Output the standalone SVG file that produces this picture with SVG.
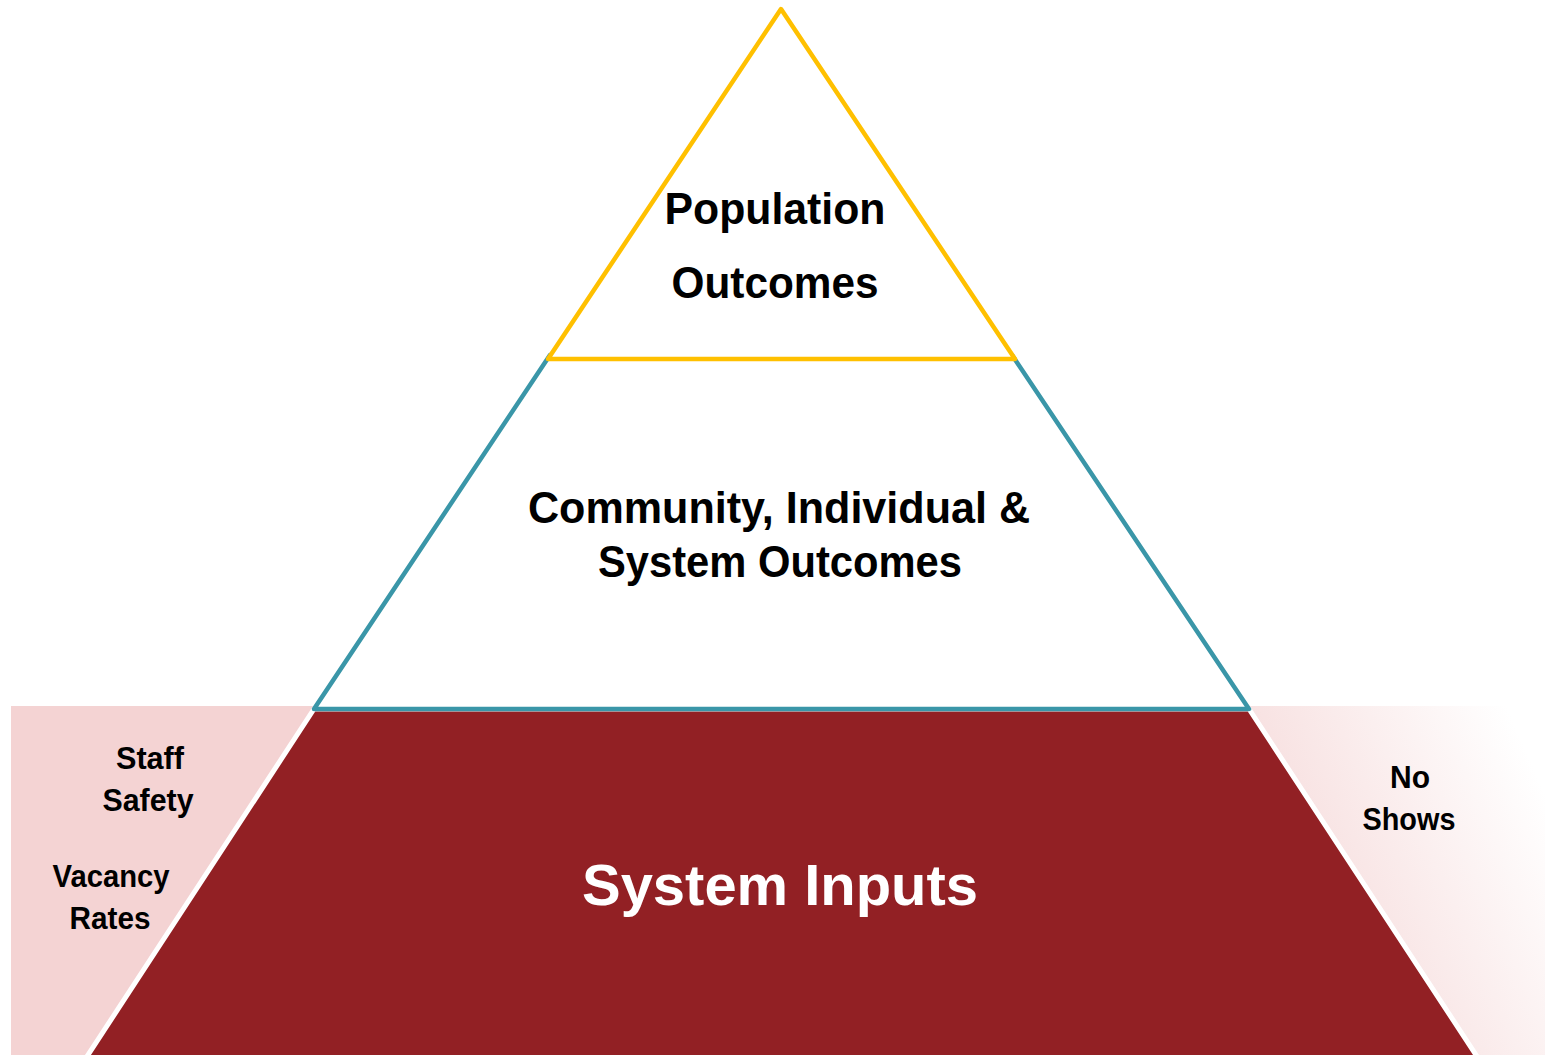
<svg xmlns="http://www.w3.org/2000/svg" width="1545" height="1055" viewBox="0 0 1545 1055">
<defs>
<linearGradient id="fade" x1="0" y1="0.75" x2="1" y2="0.25">
<stop offset="0" stop-color="#F4D3D3"/>
<stop offset="1" stop-color="#FFFFFF"/>
</linearGradient>
<style>
.t{font-family:"Liberation Sans",Arial,sans-serif;font-weight:bold;fill:#000;text-anchor:middle}
.big{font-size:45px}
.mid{font-size:44px}
.sm{font-size:31px}
.w{fill:#fff;font-size:58px}
</style>
</defs>
<rect width="1545" height="1055" fill="#fff"/>
<g id="side-left">
<rect x="11" y="706" width="320" height="349" fill="#F4D3D3"/>
</g>
<g id="side-right">
<rect x="1235" y="706" width="310" height="349" fill="url(#fade)"/>
</g>
<g id="system-inputs">
<polygon points="314,709 1249,709 1478,1058 86,1058" fill="#922024" stroke="#fff" stroke-width="5" stroke-linejoin="miter"/>
<text class="t w" x="780" y="905" textLength="396" lengthAdjust="spacingAndGlyphs">System Inputs</text>
</g>
<g id="community-outcomes">
<polygon points="550,355 1012,355 1249,709 314,709" fill="#fff" stroke="#3A96A8" stroke-width="4.5" stroke-linejoin="round"/>
<text class="t mid" x="779" y="523" textLength="502" lengthAdjust="spacingAndGlyphs">Community, Individual &amp;</text>
<text class="t mid" x="780" y="577" textLength="364" lengthAdjust="spacingAndGlyphs">System Outcomes</text>
</g>
<g id="population-outcomes">
<polygon points="781,9 1015,359 548,359" fill="#fff" stroke="#FFC000" stroke-width="4.5" stroke-linejoin="round"/>
<text class="t big" x="775" y="224" textLength="221" lengthAdjust="spacingAndGlyphs">Population</text>
<text class="t big" x="775" y="298" textLength="207" lengthAdjust="spacingAndGlyphs">Outcomes</text>
</g>
<g id="labels-left">
<text class="t sm" x="150" y="769" textLength="68" lengthAdjust="spacingAndGlyphs">Staff</text>
<text class="t sm" x="148" y="811" textLength="91" lengthAdjust="spacingAndGlyphs">Safety</text>
<text class="t sm" x="111" y="887" textLength="117" lengthAdjust="spacingAndGlyphs">Vacancy</text>
<text class="t sm" x="110" y="929" textLength="81" lengthAdjust="spacingAndGlyphs">Rates</text>
</g>
<g id="labels-right">
<text class="t sm" x="1410" y="788" textLength="40" lengthAdjust="spacingAndGlyphs">No</text>
<text class="t sm" x="1409" y="830" textLength="93" lengthAdjust="spacingAndGlyphs">Shows</text>
</g>
<g id="connectors"></g>
</svg>
